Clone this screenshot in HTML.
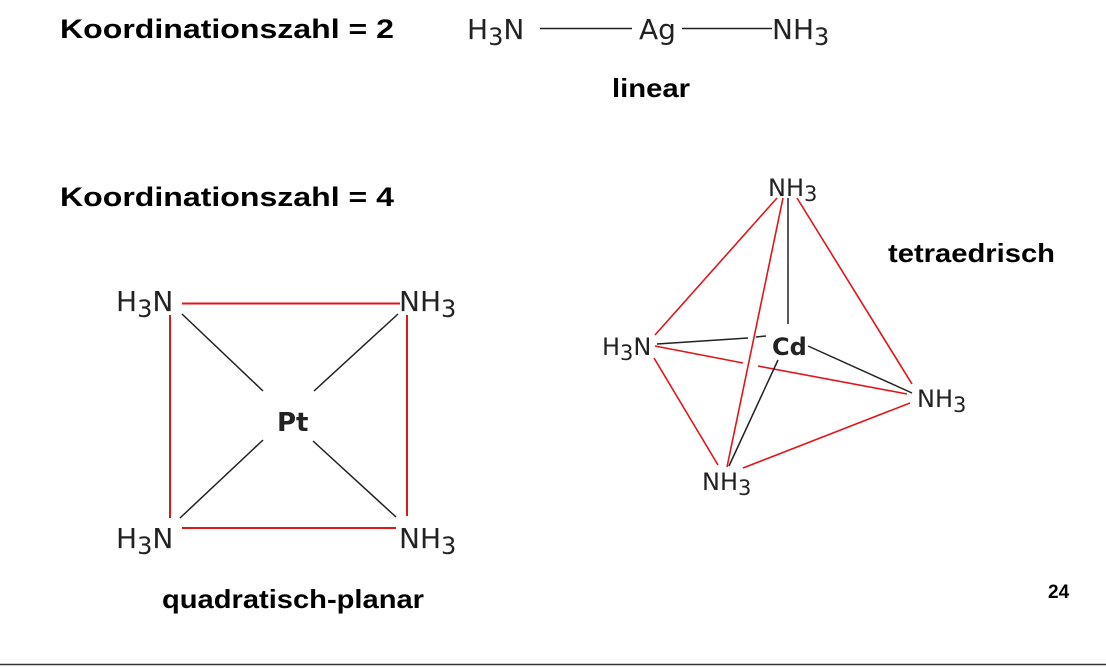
<!DOCTYPE html>
<html><head><meta charset="utf-8"><style>
html,body{margin:0;padding:0;background:#fff;}
svg{display:block;}
.b{font-family:"Liberation Sans",Arial,sans-serif;font-weight:bold;fill:#000;}
.c{font-family:"DejaVu Sans","Liberation Sans",sans-serif;fill:#222;}
</style></head><body>
<svg width="1106" height="668" viewBox="0 0 1106 668" xmlns="http://www.w3.org/2000/svg">
<text class="b" x="60" y="38" font-size="27" textLength="334" lengthAdjust="spacingAndGlyphs">Koordinationszahl = 2</text>
<text class="b" x="60" y="206" font-size="27" textLength="334" lengthAdjust="spacingAndGlyphs">Koordinationszahl = 4</text>
<text class="b" x="612" y="97" font-size="26" textLength="78" lengthAdjust="spacingAndGlyphs">linear</text>
<text class="b" x="888" y="262" font-size="26" textLength="167" lengthAdjust="spacingAndGlyphs">tetraedrisch</text>
<text class="b" x="162" y="608" font-size="26" textLength="262" lengthAdjust="spacingAndGlyphs">quadratisch-planar</text>
<text class="b" x="1048" y="598" font-size="19">24</text>

<!-- linear -->
<g class="c" font-size="28">
<text x="467" y="39">H<tspan font-size="24" dy="6">3</tspan><tspan dy="-6">N</tspan></text>
<text x="639" y="39">Ag</text>
<text x="772" y="39">NH<tspan font-size="24" dy="6">3</tspan></text>
</g>
<line x1="540" y1="28.5" x2="632" y2="28.5" stroke="#222" stroke-width="1.5"/>
<line x1="682" y1="28.5" x2="772" y2="28.5" stroke="#222" stroke-width="1.5"/>

<!-- square planar -->
<g stroke="#e0161b" stroke-width="2">
<line x1="182" y1="303.5" x2="400" y2="303.5"/>
<line x1="182" y1="528" x2="396" y2="528"/>
<line x1="170" y1="315" x2="170" y2="518"/>
<line x1="407" y1="315" x2="407" y2="516"/>
</g>
<g stroke="#222" stroke-width="1.5">
<line x1="182" y1="314" x2="263" y2="391"/>
<line x1="398" y1="314" x2="314" y2="391"/>
<line x1="180" y1="518" x2="263" y2="440"/>
<line x1="396" y1="517" x2="313" y2="441"/>
</g>
<g class="c" font-size="28">
<text x="116" y="311">H<tspan font-size="24" dy="6">3</tspan><tspan dy="-6">N</tspan></text>
<text x="399" y="311">NH<tspan font-size="24" dy="6">3</tspan></text>
<text x="116" y="548">H<tspan font-size="24" dy="6">3</tspan><tspan dy="-6">N</tspan></text>
<text x="399" y="548">NH<tspan font-size="24" dy="6">3</tspan></text>
<text x="277" y="431" font-weight="bold" font-size="26">Pt</text>
</g>

<!-- tetrahedral -->
<g stroke="#e0161b" stroke-width="1.6" fill="none">
<line x1="777" y1="198" x2="655" y2="335"/>
<line x1="783" y1="198" x2="727" y2="467"/>
<line x1="797" y1="198" x2="912" y2="384"/>
<line x1="655" y1="346" x2="743" y2="363"/>
<line x1="758" y1="366" x2="907" y2="394"/>
<line x1="654" y1="358" x2="718" y2="465"/>
<line x1="743" y1="468" x2="910" y2="403"/>
</g>
<g stroke="#222" stroke-width="1.5">
<line x1="788" y1="198" x2="788" y2="324"/>
<line x1="657" y1="344" x2="748" y2="338"/>
<line x1="756" y1="337" x2="766" y2="336"/>
<line x1="808" y1="346" x2="912" y2="393"/>
<line x1="778" y1="360" x2="729" y2="466"/>
</g>
<g class="c" font-size="24">
<text x="768" y="196">NH<tspan font-size="21" dy="5">3</tspan></text>
<text x="602" y="355">H<tspan font-size="21" dy="5">3</tspan><tspan dy="-5">N</tspan></text>
<text x="772" y="355" font-weight="bold" font-size="24">Cd</text>
<text x="917" y="407">NH<tspan font-size="21" dy="5">3</tspan></text>
<text x="702" y="490">NH<tspan font-size="21" dy="5">3</tspan></text>
</g>

<line x1="0" y1="664.5" x2="1106" y2="664.5" stroke="#333" stroke-width="1.5"/>
</svg>
</body></html>
